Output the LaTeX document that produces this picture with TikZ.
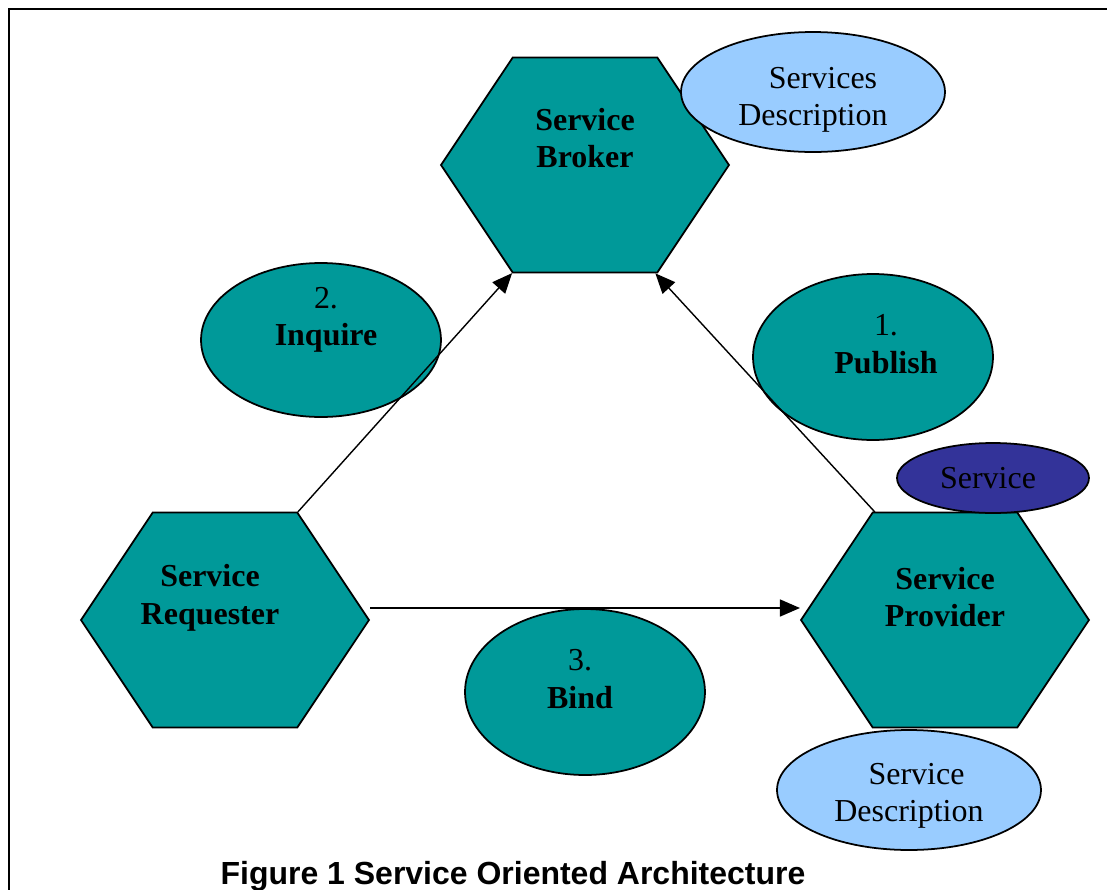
\documentclass[tikz,border=0pt]{standalone}
\usepackage{fontspec}
\setmainfont{Liberation Serif}
\newfontfamily\arialfont{Liberation Sans}
\usepackage{tikz}
\usepackage{xcolor}
\usetikzlibrary{positioning, arrows.meta}
\usetikzlibrary{shapes, positioning}

\definecolor{soateal}{RGB}{0,153,153}
\definecolor{descblue}{RGB}{153,204,255}
\definecolor{servblue}{RGB}{51,51,153}

\begin{document}
\begin{tikzpicture}[x=0.02cm, y=-0.02cm,
        hexagon/.style={signal, signal to=east and west, signal pointer angle=112.6, draw=black, line width=1pt, fill=soateal, minimum width=5.76cm, minimum height=4.3cm, inner sep=0pt},
        bubble/.style={ellipse, draw=black, line width=1pt, inner sep=0pt},
        txt/.style={align=center, font=\fontsize{18.2}{21.3}\selectfont},
        boldtxt/.style={align=center, font=\fontsize{18.2}{21.3}\selectfont\bfseries},
        arrow/.style={-{Triangle[length=4mm, width=3.4mm]}, line width=0.8pt}]
    \useasboundingbox (0,0) rectangle (1107,890);
    \draw[line width=1.5pt] (9,890) -- (9,9) -- (1107,9);

    \node[hexagon, label={[boldtxt, yshift=0.54cm]center:{Service\\Broker}}] (broker) at (585,165) {};
    \node[hexagon, label={[boldtxt, yshift=0.44cm, xshift=-0.3cm]center:{Service\\Requester}}] (requester) at (225,620) {};
    \node[hexagon, label={[boldtxt, yshift=0.46cm]center:{Service\\Provider}}] (provider) at (945,620) {};

    \node[bubble, fill=descblue, minimum width=5.28cm, minimum height=2.4cm, label={[txt, yshift=-0.16cm]center:{\hspace*{0.4cm}Services\\Description}}] (brokerdesc) at (813,92) {};
    \node[bubble, fill=servblue, minimum width=3.84cm, minimum height=1.4cm, label={[txt, xshift=-0.1cm]center:Service}] (service) at (993,478) {};
    \node[bubble, fill=descblue, minimum width=5.28cm, minimum height=2.4cm, label={[txt, yshift=-0.12cm]center:{\hspace*{0.3cm}Service\\Description}}] (providerdesc) at (909,790) {};

    \node[bubble, fill=soateal, minimum width=4.8cm, minimum height=3.08cm, label={[txt, yshift=0.4cm, xshift=0.1cm]center:{2.\\\textbf{Inquire}}}] (inquire) at (321,340) {};
    \node[bubble, fill=soateal, minimum width=4.8cm, minimum height=3.32cm, label={[txt, yshift=0.26cm, xshift=0.26cm]center:{1.\\\textbf{Publish}}}] (publish) at (873,357) {};
    \node[bubble, fill=soateal, minimum width=4.8cm, minimum height=3.32cm, label={[txt, yshift=0.26cm, xshift=-0.1cm]center:{3.\\\textbf{Bind}}}] (bind) at (585,692) {};

    \draw[arrow] (requester.56.2) -- (broker.236.2);
    \draw[arrow] (provider.123.8) -- (broker.303.8);
    \draw[arrow] ([yshift=0.24cm]requester.east) -- ([yshift=0.24cm]provider.west);

    \node[font=\arialfont\bfseries\fontsize{18.2}{21.3}\selectfont, anchor=base] (caption) at (513,884) {Figure 1 Service Oriented Architecture};
\end{tikzpicture}
\end{document}
